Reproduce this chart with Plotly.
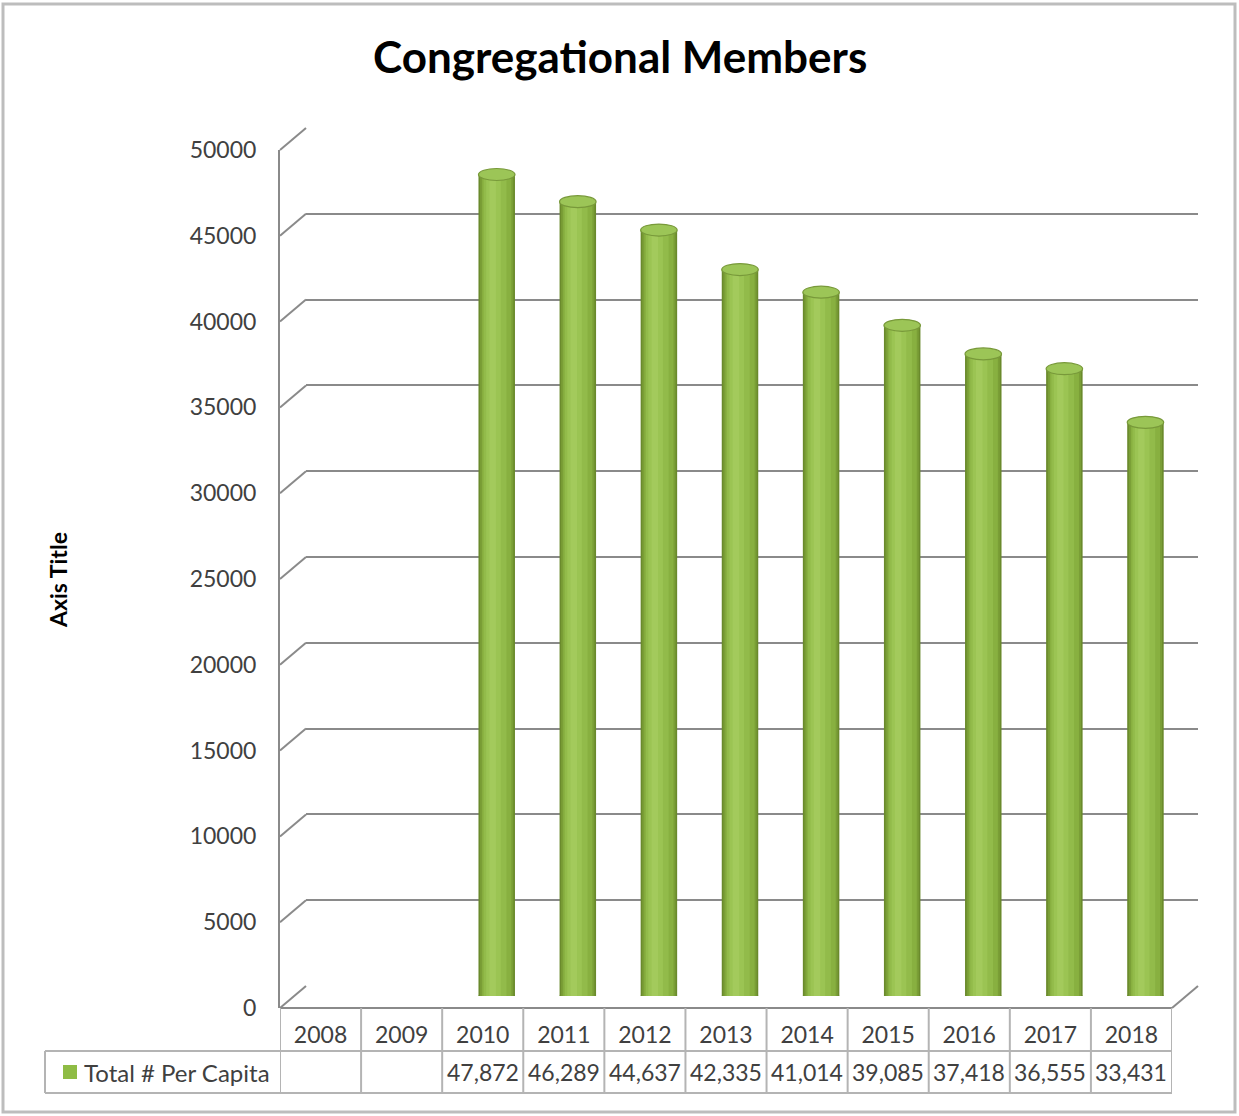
import plotly.graph_objects as go

# ---------------- data ----------------
years = ["2008", "2009", "2010", "2011", "2012", "2013", "2014", "2015", "2016", "2017", "2018"]
members = [None, None, 47872, 46289, 44637, 42335, 41014, 39085, 37418, 36555, 33431]
y_ticks = [0, 5000, 10000, 15000, 20000, 25000, 30000, 35000, 40000, 45000, 50000]
y_tick_text = ["0", "5000", "10000", "15000", "20000", "25000", "30000", "35000", "40000", "45000", "50000"]
chart_title = "Congregational Members"
y_title = "Axis Title"
series_name = "Total # Per Capita"

# ---------------- geometry (pixels) ----------------
W, H = 1239, 1116
FONT = "Lato"
TXT = "#404040"
GRID = "#8a8a8a"
TABLE = "#b4b4b4"
YMAX = 50000

FRONT_L, FRONT_R = 280, 1172      # front plane x extent
FRONT_B, FRONT_T = 1008, 150      # front plane y for 0 and YMAX
DEPTH_X, DEPTH_Y = 26, 22         # back wall offset
MID_X, MID_Y = 14, 12             # bar plane offset
ROW1_B, ROW2_B = 1051, 1093       # table row bottoms
LEGEND_L = 45
BAR_W = 0.45


def px(x):
    return x / W


def py(y):
    return 1 - y / H


def front_y(v):
    return FRONT_B - v / YMAX * (FRONT_B - FRONT_T)


fig = go.Figure()

# invisible trace to activate back-wall grid subplot
fig.add_trace(go.Scatter(x=[0], y=[0], xaxis="x2", yaxis="y2", mode="markers",
                         marker=dict(opacity=0), showlegend=False, hoverinfo="skip"))
# invisible trace on front axes
fig.add_trace(go.Scatter(x=years, y=[None] * len(years), xaxis="x", yaxis="y",
                         mode="markers", showlegend=False, hoverinfo="skip"))

# cylinder bodies (layered for shading)
layers = [
    dict(width=BAR_W, offset=None, color="#6a8a2c"),
    dict(width=0.41, offset=None, color="#7a9e36"),
    dict(width=0.36, offset=None, color="#88b040"),
    dict(width=0.28, offset=-0.16, color="#92bb4a"),
    dict(width=0.18, offset=-0.13, color="#9bc453"),
    dict(width=0.08, offset=-0.09, color="#a3ca5c"),
]
for L in layers:
    kw = dict(x=list(range(len(years))), y=members, xaxis="x3", yaxis="y3",
              width=L["width"], marker=dict(color=L["color"], line=dict(width=0)),
              showlegend=False, hoverinfo="skip")
    if L["offset"] is not None:
        kw["offset"] = L["offset"]
    fig.add_trace(go.Bar(**kw))

shapes = []
annotations = []

# cylinder tops and bottoms
for i, v in enumerate(members):
    if v is None:
        continue
    shapes.append(dict(type="circle", xref="x3", yref="y3", x0=i - BAR_W / 2, x1=i + BAR_W / 2,
                       ysizemode="pixel", yanchor=v, y0=-6, y1=6,
                       fillcolor="#9cc557", line=dict(color="#78993a", width=1.2), layer="above"))
    shapes.append(dict(type="circle", xref="x3", yref="y3", x0=i - BAR_W / 2, x1=i + BAR_W / 2,
                       ysizemode="pixel", yanchor=0, y0=-5, y1=5,
                       fillcolor="#7ea23a", line=dict(width=0), layer="below"))

# left wall diagonals for each gridline
for v in y_ticks:
    yf = front_y(v)
    shapes.append(dict(type="line", xref="paper", yref="paper",
                       x0=px(FRONT_L), y0=py(yf), x1=px(FRONT_L + DEPTH_X), y1=py(yf - DEPTH_Y),
                       line=dict(color=GRID, width=2)))

# floor right diagonal + front floor edge
shapes.append(dict(type="line", xref="paper", yref="paper",
                   x0=px(FRONT_R), y0=py(FRONT_B), x1=px(FRONT_R + DEPTH_X), y1=py(FRONT_B - DEPTH_Y),
                   line=dict(color=GRID, width=2)))
shapes.append(dict(type="line", xref="paper", yref="paper",
                   x0=px(FRONT_L), y0=py(FRONT_B), x1=px(FRONT_R), y1=py(FRONT_B),
                   line=dict(color=GRID, width=2)))

# data table
for yy, xl in [(ROW1_B, LEGEND_L), (ROW2_B, LEGEND_L)]:
    shapes.append(dict(type="line", xref="paper", yref="paper",
                       x0=px(xl), x1=px(FRONT_R), y0=py(yy), y1=py(yy),
                       line=dict(color=TABLE, width=2)))
for k in range(len(years) + 1):
    shapes.append(dict(type="line", xref="x", yref="paper", x0=k - 0.5, x1=k - 0.5,
                       y0=py(FRONT_B), y1=py(ROW2_B), line=dict(color=TABLE, width=2)))
shapes.append(dict(type="line", xref="paper", yref="paper", x0=px(LEGEND_L), x1=px(LEGEND_L),
                   y0=py(ROW1_B), y1=py(ROW2_B), line=dict(color=TABLE, width=2)))

# legend key
shapes.append(dict(type="rect", xref="paper", yref="paper", x0=px(63), x1=px(77),
                   y0=py(1079), y1=py(1065), fillcolor="#8fbc45", line=dict(width=0)))
annotations.append(dict(x=px(82), y=py(1072), xref="paper", yref="paper", text=series_name,
                        showarrow=False, xanchor="left", yanchor="middle",
                        font=dict(family=FONT, size=24, color=TXT)))

# table values
for i, v in enumerate(members):
    if v is None:
        continue
    annotations.append(dict(x=i, y=py(1072), xref="x", yref="paper", text=f"{v:,}",
                            showarrow=False, xanchor="center", yanchor="middle",
                            font=dict(family=FONT, size=23, color=TXT)))

# titles
annotations.append(dict(x=px(620), y=py(56), xref="paper", yref="paper", text=f"<b>{chart_title}</b>",
                        showarrow=False, xanchor="center", yanchor="middle",
                        font=dict(family=FONT, size=44, color="#000000")))
annotations.append(dict(x=px(58), y=py(580), xref="paper", yref="paper", text=f"<b>{y_title}</b>",
                        showarrow=False, textangle=-90, xanchor="center", yanchor="middle",
                        font=dict(family=FONT, size=23, color="#000000")))

# outer border
shapes.append(dict(type="rect", xref="paper", yref="paper", x0=px(3), x1=px(1235),
                   y0=py(1112), y1=py(4), line=dict(color="#bdbdbd", width=3)))

axis_common = dict(automargin=False, fixedrange=True, zeroline=False, ticks="")

fig.update_layout(
    template="none",
    width=W, height=H,
    margin=dict(l=0, r=0, t=0, b=0, pad=0, autoexpand=False),
    paper_bgcolor="white", plot_bgcolor="rgba(0,0,0,0)",
    barmode="overlay",
    showlegend=False,
    shapes=shapes,
    annotations=annotations,
    # front plane: tick labels + category labels
    xaxis=dict(domain=[px(FRONT_L), px(FRONT_R)], type="category", categoryorder="array",
               categoryarray=years, range=[-0.5, len(years) - 0.5], showgrid=False,
               showline=False, tickfont=dict(family=FONT, size=23, color=TXT),
               ticklabelstandoff=11, anchor="y", **axis_common),
    yaxis=dict(domain=[py(FRONT_B), py(FRONT_T)], range=[0, YMAX], tickvals=y_ticks,
               ticktext=y_tick_text, showgrid=False, showline=True, linecolor=GRID, linewidth=2,
               tickfont=dict(family=FONT, size=23, color=TXT), ticklabelstandoff=17,
               anchor="x", **axis_common),
    # back wall gridlines
    xaxis2=dict(domain=[px(FRONT_L + DEPTH_X), px(FRONT_R + DEPTH_X)], range=[0, 1],
                showgrid=False, showline=False, showticklabels=False, anchor="y2", **axis_common),
    yaxis2=dict(domain=[py(FRONT_B - DEPTH_Y), py(FRONT_T - DEPTH_Y)], range=[0, YMAX],
                tickvals=y_ticks, showgrid=True, gridcolor=GRID, gridwidth=2,
                showline=False, showticklabels=False, anchor="x2", **axis_common),
    # bar plane
    xaxis3=dict(domain=[px(FRONT_L + MID_X), px(FRONT_R + MID_X)], range=[-0.5, len(years) - 0.5],
                showgrid=False, showline=False, showticklabels=False, anchor="y3", **axis_common),
    yaxis3=dict(domain=[py(FRONT_B - MID_Y), py(FRONT_T - MID_Y)], range=[0, YMAX],
                showgrid=False, showline=False, showticklabels=False, anchor="x3", **axis_common),
)

fig.write_html("out.html", config={"displayModeBar": False},
               post_script="document.body.style.margin='0';")
